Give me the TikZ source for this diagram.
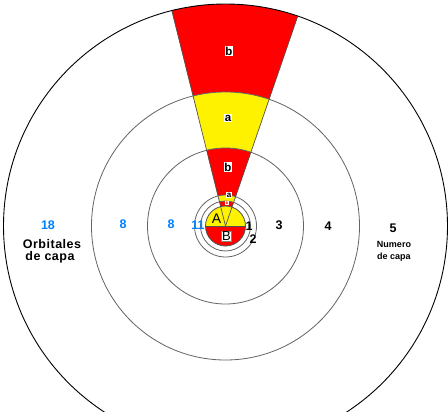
\documentclass[tikz,border=0pt]{standalone}
\usepackage{fontspec}
\setmainfont{Liberation Sans}
\definecolor{ringgray}{RGB}{100,100,100}
\definecolor{edgegray}{RGB}{80,80,80}
\definecolor{numblue}{RGB}{0,128,255}
\begin{document}
\begin{tikzpicture}[x=1pt,y=1pt,
  lbl/.style={fill=white,inner sep=0.9pt,font=\bfseries\fontsize{11.5}{11.5}\selectfont},
  num/.style={inner sep=0pt,font=\bfseries\fontsize{12.5}{12.5}\selectfont},
  bnum/.style={inner sep=0pt,text=numblue,font=\bfseries\fontsize{12.5}{12.5}\selectfont},
  captxt/.style={inner sep=0pt,font=\bfseries\fontsize{12.5}{12.5}\selectfont\addfontfeature{LetterSpace=4}},
  scaptxt/.style={inner sep=0pt,font=\bfseries\fontsize{9}{9}\selectfont},
  ring/.style={draw=ringgray,line width=0.8pt}]
\useasboundingbox (0,0) rectangle (448,-412);
\clip (0,0) rectangle (448,-412);
\fill[white] (0,0) rectangle (448,-412);
\coordinate (C) at (225.5,-226);
% sectors
\fill[red]    ([shift={(C)}]71:222) arc (71:104:222) -- ([shift={(C)}]104:134) arc (104:71:134) -- cycle;
\fill[yellow] ([shift={(C)}]71:134) arc (71:104:134) -- ([shift={(C)}]104:78) arc (104:71:78) -- cycle;
\fill[red]    ([shift={(C)}]71:78) arc (71:104:78) -- ([shift={(C)}]104:31) arc (104:71:31) -- cycle;
\fill[yellow] ([shift={(C)}]71:31) arc (71:104:31) -- ([shift={(C)}]104:25) arc (104:71:25) -- cycle;
\fill[red]    ([shift={(C)}]71:25) arc (71:104:25) -- ([shift={(C)}]104:20) arc (104:71:20) -- cycle;
% central disc
\fill[yellow] ([shift={(C)}]0:20) arc (0:180:20) -- cycle;
\fill[red] ([shift={(C)}]180:20) arc (180:360:20) -- cycle;
% circles
\draw[ring] (C) circle (25);
\draw[ring] (C) circle (31);
\draw[ring] (C) circle (78);
\draw[ring] (C) circle (134);
\draw[black,line width=0.9pt] (C) circle (222);
\draw[edgegray,line width=0.8pt] (C) circle (20);
\draw[edgegray,line width=0.8pt] ([shift={(C)}]180:20) -- ([shift={(C)}]0:20);
% wedge edges
\draw[edgegray,line width=0.7pt] (C) -- ([shift={(C)}]71:222);
\draw[edgegray,line width=0.7pt] (C) -- ([shift={(C)}]104:222);
% labels in wedge
\node[lbl] (b5) at (229,-51) {b};
\node[lbl] (a4) at (228,-118) {a};
\node[lbl] (b3) at (228,-167) {b};
\node[lbl,font=\bfseries\fontsize{8}{8}\selectfont,inner sep=0.4pt] (a2) at (229,-195) {a};
\node[lbl,font=\bfseries\fontsize{4}{4}\selectfont,inner sep=0.4pt,text=red] (b1) at (227,-203) {b};
\node[inner sep=0pt,font=\fontsize{14}{14}\selectfont] (A) at (216.5,-219) {A};
\node[fill=white,draw=gray,inner sep=0.6pt,line width=0.5pt,font=\fontsize{13}{13}\selectfont] (B) at (226.5,-236) {B};
% shell numbers
\node[num] (n1) at (249,-226) {1};
\node[num] (n2) at (253,-239) {2};
\node[num] (n3) at (279,-225) {3};
\node[num] (n4) at (328,-226) {4};
\node[num] (n5) at (393,-228) {5};
\node[scaptxt] (nc1) at (394,-244) {Numero};
\node[scaptxt] (nc2) at (394,-257) {de capa};
% orbital counts
\node[bnum] (o1) at (198,-225) {11};
\node[bnum] (o3) at (171,-224) {8};
\node[bnum] (o4) at (123,-224) {8};
\node[bnum] (o5) at (48,-225) {18};
\node[captxt] (oc1) at (52,-244) {Orbitales};
\node[captxt] (oc2) at (50,-257) {de capa};
\end{tikzpicture}
\end{document}
